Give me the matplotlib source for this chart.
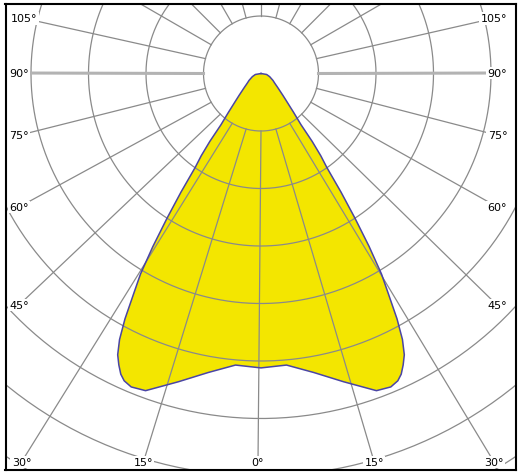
import matplotlib
matplotlib.use('Agg')
import matplotlib.pyplot as plt
import numpy as np

# luminous intensity curve (symmetric), gamma = degrees from nadir
gamma = [0, 5, 10, 15, 20, 22.5, 24, 25, 26, 27, 28, 29, 30, 31, 32, 33, 34, 35,
         36, 37, 38, 40, 43, 45, 50, 55, 60, 70, 80, 90]
intensity = [512, 509, 528, 555, 587, 590, 585, 577, 564, 549, 524, 488, 444, 407, 355, 300, 249, 200,
             177, 148, 113, 88, 64, 54, 38, 29, 24, 16, 10, 0]

rings = [100, 200, 300, 400, 500, 600, 700, 800]
label_angles = [-105, -90, -75, -60, -45, -30, -15, 0, 15, 30, 45, 60, 75, 90, 105]
label_text = ['105°', '90°', '75°', '60°', '45°', '30°', '15°', '0°',
              '15°', '30°', '45°', '60°', '75°', '90°', '105°']

# where the angle labels sit on the picture (pixels), rays run up to them
label_px = [(24, 19.3), (19, 74), (19, 136.3), (19, 208), (19, 306),
            (21.5, 463), (143.4, 463), (258, 463), (374.2, 463), (494, 463),
            (497, 306), (497.5, 208), (497.5, 136.3), (497.5, 74), (493.7, 19.3)]

W, H = 522, 477
CX, CY = 261, 74.5          # centre of the diagram in pixels
K = 100 / 57.5              # data units per pixel (one ring = 57.5 px)


def to_data(x, y):
    return (x - CX) * K, (CY - y) * K


fig = plt.figure(figsize=(W / 100, H / 100), dpi=100)
left, right, top, bottom = 5.5, 516, 5, 470.5
ax = fig.add_axes([left / W, (H - bottom) / H, (right - left) / W, (bottom - top) / H])
x0, y1 = to_data(left, top)
x1, y0 = to_data(right, bottom)
ax.set_xlim(x0, x1)
ax.set_ylim(y0, y1)
ax.set_xticks([])
ax.set_yticks([])
for s in ax.spines.values():
    s.set_linewidth(1.5)
    s.set_color('black')
    s.set_zorder(10)

# curve, mirrored on both sides
g = np.radians(np.array(gamma))
I = np.array(intensity, dtype=float)
ang = np.concatenate([-g[::-1], g[1:]])
rr = np.concatenate([I[::-1], I[1:]])
xs = rr * np.sin(ang)
ys = -rr * np.cos(ang)
ax.fill(xs, ys, color='#f3e600', zorder=1, lw=0)
ax.plot(np.append(xs, xs[0]), np.append(ys, ys[0]), color='#4a45a5', lw=1.1, zorder=4)

# rings
t = np.linspace(0, 2 * np.pi, 400)
for r in rings:
    ax.plot(r * np.cos(t), r * np.sin(t), color='#8a8a8a', lw=0.9, zorder=2)

# rays every 15 degrees, starting at the first ring
lab = dict(zip(label_angles, label_px))
for a in range(-165, 181, 15):
    ar = np.radians(a)
    sx, sy = rings[0] * np.sin(ar), -rings[0] * np.cos(ar)
    if a in lab:
        ex, ey = to_data(*lab[a])
    else:
        ex, ey = 2000 * np.sin(ar), -2000 * np.cos(ar)
    if abs(a) == 90:
        ax.plot([sx, ex], [sy, ey], color='#b3b3b3', lw=2.2, zorder=2)
    else:
        ax.plot([sx, ex], [sy, ey], color='#8a8a8a', lw=0.9, zorder=2)

for a, txt in zip(label_angles, label_text):
    lx, ly = to_data(*lab[a])
    ax.text(lx, ly, txt, ha='center', va='center', fontsize=8, color='black', zorder=6,
            bbox=dict(facecolor='white', edgecolor='none', pad=1.0))

fig.savefig('out.png', dpi=100)
